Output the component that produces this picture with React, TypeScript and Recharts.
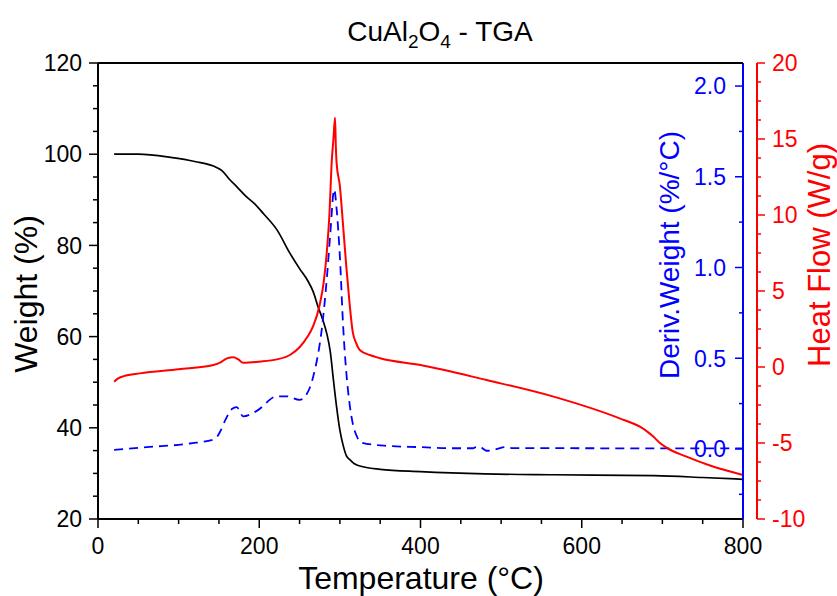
import { LineChart, Line, XAxis, YAxis, ReferenceLine } from 'recharts';

const FONT = '"Liberation Sans", Arial, sans-serif';

// weight loss trace (black)
const weightTemp = [20, 50, 90, 120, 147, 155, 163, 172, 184, 195, 205, 222, 238, 250, 260, 267, 273, 279, 284, 288, 292, 296, 300, 304, 308, 313, 318, 330, 350, 400, 480, 565, 690, 750, 800];
const weightPct = [100, 100, 99.3, 98.4, 97.1, 96.2, 94.5, 92.9, 90.7, 89, 87, 83.4, 78.3, 74.9, 72.3, 69.8, 66.5, 63.6, 60.5, 56.8, 50.5, 44.5, 39.5, 36.2, 33.9, 32.9, 32.1, 31.4, 30.9, 30.4, 29.9, 29.7, 29.5, 29.1, 28.7];

// derivative weight trace (blue, dashed)
const derivTemp = [20, 60, 114, 145, 152, 158, 166, 172, 180, 197, 222, 234, 250, 263, 267, 272, 277, 284, 288, 293, 296, 300, 304, 308, 312, 316, 321, 327, 358, 400, 440, 465, 470, 476, 482, 495, 505, 515, 600, 700, 800];
const derivVal = [-0.005, 0.01, 0.03, 0.055, 0.1, 0.16, 0.22, 0.23, 0.18, 0.21, 0.29, 0.29, 0.27, 0.34, 0.4, 0.5, 0.64, 0.95, 1.18, 1.43, 1.32, 1.06, 0.68, 0.42, 0.25, 0.14, 0.07, 0.035, 0.017, 0.01, 0.004, 0.004, 0.013, 0.006, -0.01, 0.0, 0.01, 0.005, 0.004, 0.003, 0.003];

// heat flow trace (red)
const heatTemp = [20, 25, 32, 52, 100, 143, 152, 160, 168, 174, 180, 200, 222, 238, 250, 260, 267, 275, 280, 284, 287, 290, 292, 294, 295, 296, 300, 304, 308, 312, 316, 320, 325, 337, 350, 400, 482, 565, 647, 672, 680, 689, 697, 705, 730, 760, 800];
const heatVal = [-0.97, -0.75, -0.6, -0.42, -0.15, 0.13, 0.3, 0.57, 0.64, 0.5, 0.28, 0.35, 0.5, 0.79, 1.3, 2.0, 2.7, 4.1, 5.6, 7.7, 10, 13.6, 15, 16.4, 14.5, 13.4, 11.9, 9.3, 6.6, 4.2, 2.3, 1.6, 1.1, 0.79, 0.57, 0.13, -0.86, -1.95, -3.38, -3.93, -4.2, -4.59, -5.0, -5.3, -5.9, -6.5, -7.1];

const tempTicks = [0, 50, 100, 150, 200, 250, 300, 350, 400, 450, 500, 550, 600, 650, 700, 750, 800];
const tempLabels = [0, 200, 400, 600, 800];
const weightTicks = [20, 25, 30, 35, 40, 45, 50, 55, 60, 65, 70, 75, 80, 85, 90, 95, 100, 105, 110, 115, 120];
const weightLabels = [20, 40, 60, 80, 100, 120];
const derivTicks = [-0.25, 0, 0.25, 0.5, 0.75, 1, 1.25, 1.5, 1.75, 2];
const derivLabels = [0, 0.5, 1, 1.5, 2];
const heatTicks = [-10, -8.75, -7.5, -6.25, -5, -3.75, -2.5, -1.25, 0, 1.25, 2.5, 3.75, 5, 6.25, 7.5, 8.75, 10, 11.25, 12.5, 13.75, 15, 16.25, 17.5, 18.75, 20];
const heatLabels = [-10, -5, 0, 5, 10, 15, 20];

const zip = (xs: number[], ys: number[]) => xs.map((t, i) => ({ t, v: ys[i] }));
const weightData = zip(weightTemp, weightPct);
const derivData = zip(derivTemp, derivVal);
const heatData = zip(heatTemp, heatVal);

const tickFont = { fontFamily: FONT, fontSize: 23 };

const XTick = (p: any) => {
  const major = tempLabels.includes(p.payload.value);
  return (
    <g>
      <line x1={p.x} x2={p.x} y1={p.y} y2={p.y + (major ? 9 : 5)} stroke="#000" strokeWidth={1.5} />
      {major && (
        <text x={p.x} y={p.y + 35} textAnchor="middle" fill="#000" {...tickFont}>
          {p.payload.value}
        </text>
      )}
    </g>
  );
};

const WeightTick = (p: any) => {
  const major = weightLabels.includes(p.payload.value);
  return (
    <g>
      <line x1={p.x} x2={p.x - (major ? 9 : 5)} y1={p.y} y2={p.y} stroke="#000" strokeWidth={1.5} />
      {major && (
        <text x={p.x - 16} y={p.y} dy="0.36em" textAnchor="end" fill="#000" {...tickFont}>
          {p.payload.value}
        </text>
      )}
    </g>
  );
};

const DerivTick = (p: any) => {
  const major = derivLabels.includes(p.payload.value);
  return (
    <g>
      <line x1={p.x} x2={p.x - (major ? 8 : 4)} y1={p.y} y2={p.y} stroke="#0000ff" strokeWidth={1.5} />
      {major && (
        <text x={p.x - 17} y={p.y} dy="0.36em" textAnchor="end" fill="#0000ff" {...tickFont}>
          {p.payload.value.toFixed(1)}
        </text>
      )}
    </g>
  );
};

const HeatTick = (p: any) => {
  const major = heatLabels.includes(p.payload.value);
  return (
    <g>
      <line x1={p.x} x2={p.x + (major ? 8 : 4)} y1={p.y} y2={p.y} stroke="#ff0000" strokeWidth={1.5} />
      {major && (
        <text x={p.x + 15} y={p.y} dy="0.36em" textAnchor="start" fill="#ff0000" {...tickFont}>
          {p.payload.value}
        </text>
      )}
    </g>
  );
};

export default function App() {
  return (
    <div style={{ position: 'absolute', left: 0, top: 0, width: 837, height: 596, background: '#fff' }}>
      <LineChart width={837} height={596} margin={{ top: 63, right: 0, bottom: 0, left: 0 }}>
        <XAxis
          type="number"
          dataKey="t"
          domain={[0, 800]}
          allowDataOverflow
          ticks={tempTicks}
          interval={0}
          height={77}
          tickSize={0}
          tickMargin={0}
          tickLine={false}
          tick={XTick}
          axisLine={{ stroke: '#000', strokeWidth: 2 }}
        />
        <YAxis
          yAxisId="w"
          orientation="left"
          width={98}
          domain={[20, 120]}
          allowDataOverflow
          ticks={weightTicks}
          interval={0}
          tickSize={0}
          tickMargin={0}
          tickLine={false}
          tick={WeightTick}
          axisLine={{ stroke: '#000', strokeWidth: 2 }}
        />
        <YAxis
          yAxisId="d"
          orientation="right"
          width={14}
          domain={[-0.386, 2.127]}
          allowDataOverflow
          ticks={derivTicks}
          interval={0}
          tickSize={0}
          tickMargin={0}
          tickLine={false}
          tick={DerivTick}
          axisLine={{ stroke: '#0000ff', strokeWidth: 2 }}
        />
        <YAxis
          yAxisId="h"
          orientation="right"
          width={80}
          domain={[-10, 20]}
          allowDataOverflow
          ticks={heatTicks}
          interval={0}
          tickSize={0}
          tickMargin={0}
          tickLine={false}
          tick={HeatTick}
          axisLine={{ stroke: '#ff0000', strokeWidth: 2 }}
        />
        <ReferenceLine yAxisId="w" y={120} stroke="#000" strokeWidth={2} />
        <Line
          yAxisId="w"
          data={weightData}
          dataKey="v"
          type="monotone"
          stroke="#000"
          strokeWidth={1.7}
          dot={false}
          isAnimationActive={false}
        />
        <Line
          yAxisId="d"
          data={derivData}
          dataKey="v"
          type="monotone"
          stroke="#0000ff"
          strokeWidth={1.8}
          strokeDasharray="9 6"
          dot={false}
          isAnimationActive={false}
        />
        <Line
          yAxisId="h"
          data={heatData}
          dataKey="v"
          type="monotone"
          stroke="#ff0000"
          strokeWidth={2}
          dot={false}
          isAnimationActive={false}
        />
      </LineChart>
      <svg
        width={837}
        height={596}
        style={{ position: 'absolute', left: 0, top: 0, pointerEvents: 'none' }}
        fontFamily={FONT}
      >
        <text x={440} y={41} textAnchor="middle" fontSize={28} fill="#000">
          CuAl<tspan fontSize={19} dy={7}>2</tspan>
          <tspan dy={-7}>O</tspan>
          <tspan fontSize={19} dy={7}>4</tspan>
          <tspan dy={-7}> - TGA</tspan>
        </text>
        <text x={421} y={589} textAnchor="middle" fontSize={32} fill="#000">
          Temperature (°C)
        </text>
        <text transform="translate(37,294) rotate(-90)" textAnchor="middle" fontSize={32} fill="#000">
          Weight (%)
        </text>
        <text transform="translate(679,255) rotate(-90)" textAnchor="middle" fontSize={28} fill="#0000ff">
          Deriv.Weight (%/°C)
        </text>
        <text transform="translate(830,255) rotate(-90)" textAnchor="middle" fontSize={31} fill="#ff0000">
          Heat Flow (W/g)
        </text>
      </svg>
    </div>
  );
}
